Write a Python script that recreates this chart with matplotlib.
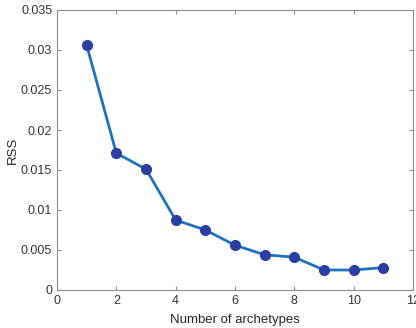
import matplotlib
matplotlib.use("Agg")
import matplotlib.pyplot as plt

n_archetypes = [1, 2, 3, 4, 5, 6, 7, 8, 9, 10, 11]
rss = [0.0306, 0.0171, 0.0151, 0.00875, 0.0075, 0.0056, 0.0044, 0.0041, 0.0025, 0.0025, 0.0028]
x_ticks = [0, 2, 4, 6, 8, 10, 12]
y_ticks = [0, 0.005, 0.01, 0.015, 0.02, 0.025, 0.03, 0.035]
y_tick_labels = ["0", "0.005", "0.01", "0.015", "0.02", "0.025", "0.03", "0.035"]

plt.rcParams["font.family"] = ["Liberation Sans", "DejaVu Sans"]

fig = plt.figure(figsize=(4.16, 3.28), dpi=100)
ax = fig.add_axes([57 / 416, 1 - 290 / 328, (413 - 57) / 416, (290 - 10) / 328])

ax.plot(n_archetypes, rss, color="#1f72bb", linewidth=2.0,
        marker="o", markersize=7, markerfacecolor="#2b3ea3",
        markeredgecolor="#2b3ea3", zorder=3)

ax.set_xlim(0, 12)
ax.set_ylim(0, 0.035)
ax.set_xticks(x_ticks)
ax.set_yticks(y_ticks)
ax.set_yticklabels(y_tick_labels)

for side in ax.spines.values():
    side.set_color("#8c8c8c")
    side.set_linewidth(0.8)
ax.tick_params(direction="in", top=True, right=True, length=3,
               color="#8c8c8c", labelcolor="#333333", labelsize=9)

ax.set_xlabel("Number of archetypes", fontsize=9.5, color="#262626", labelpad=5)
ax.set_ylabel("RSS", fontsize=9.5, color="#262626")
ax.yaxis.set_label_coords(-0.108, 0.5)

fig.savefig("out.png", dpi=100)
